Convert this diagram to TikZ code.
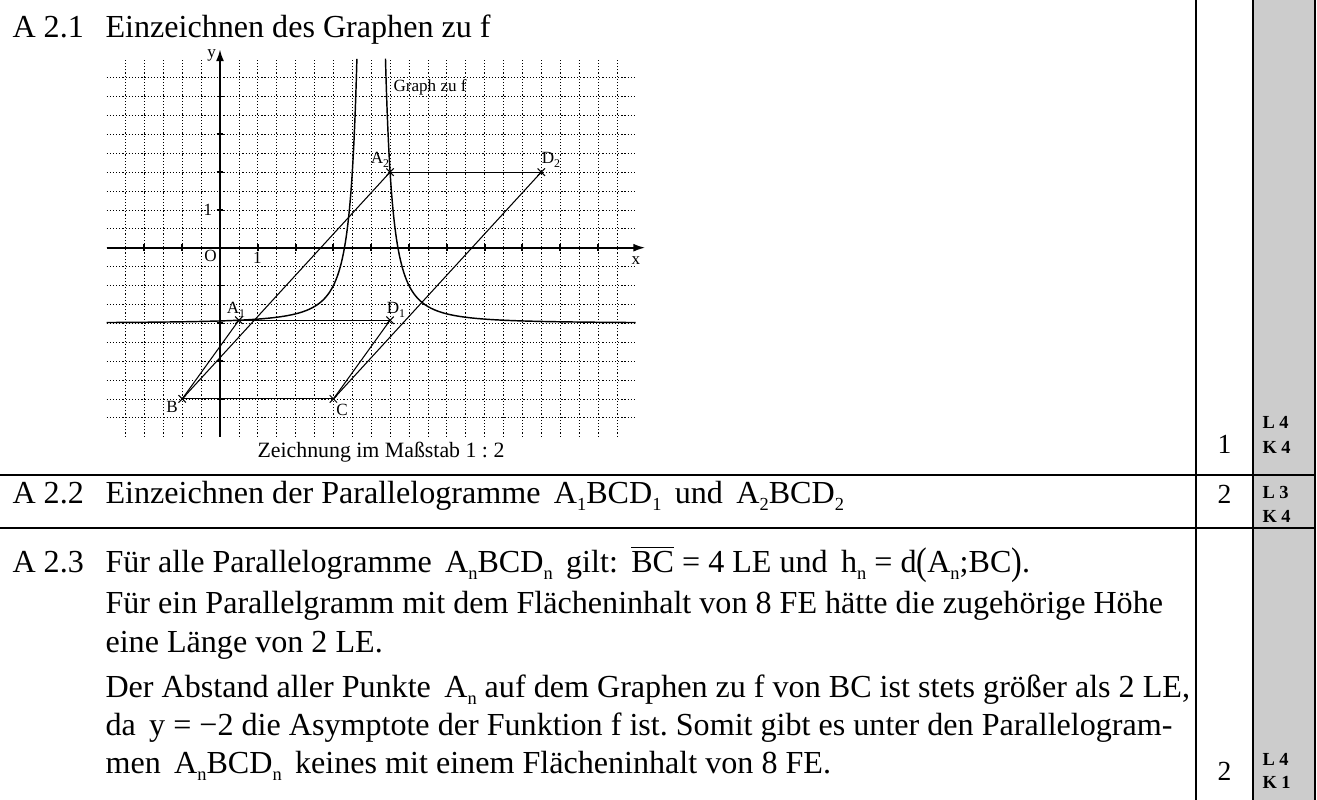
\documentclass[tikz,border=0pt]{standalone}
\usepackage{fontspec}
\setmainfont{Liberation Serif}
\usepackage{graphicx}
\usetikzlibrary{arrows.meta}
\definecolor{cellgray}{RGB}{204,204,204}
\newcommand{\mysb}[1]{\raisebox{-2.8pt}{\fontsize{7}{7}\selectfont #1}}
\newcommand{\lsb}[1]{\raisebox{-1.3pt}{\fontsize{4.5}{5}\selectfont #1}}
\newcommand{\bigp}[1]{\raisebox{-0.9pt}{\scalebox{1}[1.2]{#1}}}
\frenchspacing
\begin{document}
\begin{tikzpicture}[x=0.38pt,y=-0.38pt,
  txt/.style={anchor=base west,inner sep=0pt,font=\fontsize{12.2}{14}\selectfont},
  pts/.style={anchor=base,inner sep=0pt,font=\fontsize{10.5}{12}\selectfont},
  lk/.style={anchor=base west,inner sep=0pt,font=\fontsize{7}{8}\selectfont\bfseries},
  rule/.style={line width=0.65pt},
  gridl/.style={line width=0.3pt,dash pattern=on 0.45pt off 0.75pt},
  axis/.style={line width=0.7pt},
  curve/.style={line width=0.55pt},
  seg/.style={line width=0.4pt},
  lbl/.style={inner sep=0pt,font=\fontsize{6.5}{7}\selectfont},
]
\useasboundingbox (0,0) rectangle (1317,800);
\fill[cellgray] (1253,0) rectangle (1315,800);
% table rules
\draw[rule] (0,475) -- (1315,475);
\draw[rule] (0,528) -- (1315,528);
\draw[rule] (1196,0) -- (1196,800);
\draw[rule] (1253,0) -- (1253,800);
\draw[rule] (1315,0) -- (1315,800);

% graph
\begin{scope}[shift={(83.6pt,-94.126pt)},x=14.364pt,y=14.364pt]
  \foreach \i in {-2.5,-2,...,10.5} \draw[gridl] (\i,-5) -- (\i,5);
  \foreach \j in {-4.5,-4,...,4.5} \draw[gridl] (-3,\j) -- (11,\j);
  \coordinate (xs) at (-3,0);
  \coordinate (xe) at (11.25,0);
  \coordinate (ys) at (0,-5);
  \coordinate (ye) at (0,5.25);
  \draw[axis,-{Latex[length=4.5pt,width=3pt]}] (xs) -- (xe);
  \draw[axis,-{Latex[length=4.5pt,width=3pt]}] (ys) -- (ye);
  \foreach \i in {-2,-1,1,2,3,4,5,6,7,8,9,10} \draw[axis] (\i,-0.09) -- (\i,0.09);
  \foreach \j in {-4,-3,-2,-1,1,2,3,4} \draw[axis] (-0.09,\j) -- (0.09,\j);
  % graph of f(x) = 1/(x-4)^2 - 2
  \draw[curve] plot[domain=1.9459:-0.973,samples=160,smooth] ({4-exp(\x)},{exp(-2*\x)-2});
  \draw[curve] plot[domain=-0.973:1.9459,samples=160,smooth] ({4+exp(\x)},{exp(-2*\x)-2});
  \coordinate (A1) at (0.5,{1/12.25-2});
  \coordinate (D1) at (4.5,{1/12.25-2});
  \coordinate (A2) at (4.5,2);
  \coordinate (D2) at (8.5,2);
  \coordinate (B) at (-1,-4);
  \coordinate (C) at (3,-4);
  \draw[seg] (B) -- (C);
  \draw[seg] (B) -- (A1);
  \draw[seg] (B) -- (A2);
  \draw[seg] (C) -- (D1);
  \draw[seg] (C) -- (D2);
  \draw[seg] (A1) -- (D1);
  \draw[seg] (A2) -- (D2);
  \foreach \p in {A1,A2,B,C,D1,D2} {
    \draw[seg] (\p) ++(-1.4pt,-1.4pt) -- ++(2.8pt,2.8pt);
    \draw[seg] (\p) ++(-1.4pt,1.4pt) -- ++(2.8pt,-2.8pt);
  }
\end{scope}

\node[lbl] (ly) at (211.7,55) {y};
\node[lbl] (lx) at (636,261) {x};
\node[lbl] (lO) at (210.5,256) {O};
\node[lbl] (l1x) at (257.5,258) {1};
\node[lbl] (l1y) at (208,210) {1};
\node[lbl,anchor=west] (gf) at (393,87) {Graph zu f};
\node[lbl] (lA2) at (380,160) {A\lsb{2}};
\node[lbl] (lD2) at (551,160) {D\lsb{2}};
\node[lbl] (lA1) at (236,310) {A\lsb{1}};
\node[lbl] (lD1) at (396,310) {D\lsb{1}};
\node[lbl] (lB) at (172,407) {B};
\node[lbl] (lC) at (342,410) {C};
\node[anchor=base west,inner sep=0pt,font=\fontsize{8.3}{10}\selectfont] (cap) at (257,457) {Zeichnung im Maßstab 1 : 2};

% row 1
\node[txt] (n21) at (12,37) {A 2.1};
\node[txt] (t21) at (105,37) {Einzeichnen des Graphen zu f};
\node[pts] (p1) at (1224.5,453) {1};
\node[lk] (l1) at (1262,428) {L 4};
\node[lk] (k1) at (1262,453) {K 4};

% row 2
\node[txt] (n22) at (12,503) {A 2.2};
\node[txt] (t22) at (105,503) {Einzeichnen der Parallelogramme \,A\mysb{1}BCD\mysb{1}\, und \,A\mysb{2}BCD\mysb{2}};
\node[pts] (p2) at (1224.5,503) {2};
\node[lk] (l2) at (1262,498) {L 3};
\node[lk] (k2) at (1262,522) {K 4};

% row 3
\node[txt] (n23) at (12,572) {A 2.3};
\node[txt] (t23a) at (105,572) {Für alle Parallelogramme \,A\mysb{n}BCD\mysb{n}\, gilt: \,$\overline{\mbox{BC}}$ = 4 LE und \,h\mysb{n} = d\bigp{(}A\mysb{n};BC\bigp{)}.};
\node[txt] (t23b) at (105,613) {Für ein Parallelgramm mit dem Flächeninhalt von 8 FE hätte die zugehörige Höhe};
\node[txt] (t23c) at (105,652) {eine Länge von 2 LE.};
\node[txt] (t23d) at (105,697) {Der Abstand aller Punkte \,A\mysb{n} auf dem Graphen zu f von BC ist stets größer als 2 LE,};
\node[txt] (t23e) at (105,735) {da \,y = −2 die Asymptote der Funktion f ist. Somit gibt es unter den Parallelogram-};
\node[txt] (t23f) at (105,773) {men \,A\mysb{n}BCD\mysb{n}\, keines mit einem Flächeninhalt von 8 FE.};
\node[pts] (p3) at (1224.5,780) {2};
\node[lk] (l3) at (1262,765) {L 4};
\node[lk] (k3) at (1262,788) {K 1};
\end{tikzpicture}
\end{document}
